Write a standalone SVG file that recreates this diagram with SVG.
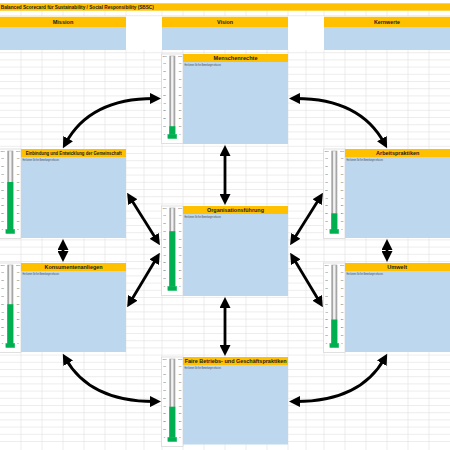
<svg xmlns="http://www.w3.org/2000/svg" xmlns:xlink="http://www.w3.org/1999/xlink" width="450" height="450" viewBox="0 0 450 450">
<style>
.grid line{stroke:#e0e0e0;stroke-width:0.6}
.hdr{fill:#ffc000}
.blue{fill:#bdd7ee}
.ht{font-family:"Liberation Sans",Arial,sans-serif;font-weight:bold;font-size:6px;fill:#1a1a1a;text-anchor:middle}
.rm{font-family:"Liberation Sans",Arial,sans-serif;font-size:2.6px;fill:#404040}
.tk{font-family:"Liberation Sans",Arial,sans-serif;font-size:2.4px;fill:#404040;text-anchor:middle}
.lvl{fill:#00b050}
.conn path{fill:none;stroke:#000;stroke-width:2.8;marker-start:url(#ah);marker-end:url(#ah)}
</style>
<defs>
<marker id="ah" markerUnits="userSpaceOnUse" markerWidth="11" markerHeight="11" refX="5" refY="5" orient="auto-start-reverse" viewBox="0 0 10 10">
<path d="M0,0 L10,5 L0,10 z" fill="#000"/>
</marker>
<g id="therm">
<rect x="0" y="0" width="21.5" height="89.5" fill="#fff" stroke="#d9d9d9" stroke-width="0.8"/>
<rect x="7.8" y="1.7" width="6" height="80" fill="#a6a6a6"/>
<rect x="9.6" y="2.2" width="2.4" height="79" fill="#f2f2f2"/>
<rect x="6.3" y="80.3" width="9" height="4.4" fill="#00b050" stroke="#33c070" stroke-width="0.4"/>
<g class="tk">
<text x="3" y="2.5">100</text><text x="3" y="10.3">90</text><text x="3" y="18.2">80</text><text x="3" y="26">70</text><text x="3" y="33.8">60</text><text x="3" y="41.7">50</text><text x="3" y="49.5">40</text><text x="3" y="57.3">30</text><text x="3" y="65.1">20</text><text x="3" y="73">10</text><text x="3" y="80.8">0</text>
<text x="18.5" y="2.5">100</text><text x="18.5" y="10.3">90</text><text x="18.5" y="18.2">80</text><text x="18.5" y="26">70</text><text x="18.5" y="33.8">60</text><text x="18.5" y="41.7">50</text><text x="18.5" y="49.5">40</text><text x="18.5" y="57.3">30</text><text x="18.5" y="65.1">20</text><text x="18.5" y="73">10</text><text x="18.5" y="80.8">0</text>
</g>
</g>
</defs>
<rect width="450" height="450" fill="#fff"/>
<g class="grid">
<line x1="0" y1="15.7" x2="450" y2="15.7"/>
<line x1="0" y1="52.7" x2="450" y2="52.7"/><line x1="0" y1="59.9" x2="450" y2="59.9"/><line x1="0" y1="67.1" x2="450" y2="67.1"/><line x1="0" y1="74.3" x2="450" y2="74.3"/><line x1="0" y1="81.5" x2="450" y2="81.5"/><line x1="0" y1="88.7" x2="450" y2="88.7"/><line x1="0" y1="95.9" x2="450" y2="95.9"/><line x1="0" y1="103.1" x2="450" y2="103.1"/><line x1="0" y1="110.3" x2="450" y2="110.3"/><line x1="0" y1="117.5" x2="450" y2="117.5"/><line x1="0" y1="124.7" x2="450" y2="124.7"/><line x1="0" y1="131.9" x2="450" y2="131.9"/><line x1="0" y1="139.1" x2="450" y2="139.1"/><line x1="0" y1="146.3" x2="450" y2="146.3"/><line x1="0" y1="153.5" x2="450" y2="153.5"/><line x1="0" y1="160.7" x2="450" y2="160.7"/><line x1="0" y1="167.9" x2="450" y2="167.9"/><line x1="0" y1="175.1" x2="450" y2="175.1"/><line x1="0" y1="182.3" x2="450" y2="182.3"/><line x1="0" y1="189.5" x2="450" y2="189.5"/><line x1="0" y1="196.7" x2="450" y2="196.7"/><line x1="0" y1="203.9" x2="450" y2="203.9"/><line x1="0" y1="211.1" x2="450" y2="211.1"/><line x1="0" y1="218.3" x2="450" y2="218.3"/><line x1="0" y1="225.5" x2="450" y2="225.5"/><line x1="0" y1="232.7" x2="450" y2="232.7"/><line x1="0" y1="239.9" x2="450" y2="239.9"/><line x1="0" y1="247.1" x2="450" y2="247.1"/><line x1="0" y1="254.3" x2="450" y2="254.3"/><line x1="0" y1="261.5" x2="450" y2="261.5"/><line x1="0" y1="268.7" x2="450" y2="268.7"/><line x1="0" y1="275.9" x2="450" y2="275.9"/><line x1="0" y1="283.1" x2="450" y2="283.1"/><line x1="0" y1="290.3" x2="450" y2="290.3"/><line x1="0" y1="297.5" x2="450" y2="297.5"/><line x1="0" y1="304.7" x2="450" y2="304.7"/><line x1="0" y1="311.9" x2="450" y2="311.9"/><line x1="0" y1="319.1" x2="450" y2="319.1"/><line x1="0" y1="326.3" x2="450" y2="326.3"/><line x1="0" y1="333.5" x2="450" y2="333.5"/><line x1="0" y1="340.7" x2="450" y2="340.7"/><line x1="0" y1="347.9" x2="450" y2="347.9"/><line x1="0" y1="355.1" x2="450" y2="355.1"/><line x1="0" y1="362.3" x2="450" y2="362.3"/><line x1="0" y1="369.5" x2="450" y2="369.5"/><line x1="0" y1="376.7" x2="450" y2="376.7"/><line x1="0" y1="383.9" x2="450" y2="383.9"/><line x1="0" y1="391.1" x2="450" y2="391.1"/><line x1="0" y1="398.3" x2="450" y2="398.3"/><line x1="0" y1="405.5" x2="450" y2="405.5"/><line x1="0" y1="412.7" x2="450" y2="412.7"/><line x1="0" y1="419.9" x2="450" y2="419.9"/><line x1="0" y1="427.1" x2="450" y2="427.1"/><line x1="0" y1="434.3" x2="450" y2="434.3"/><line x1="0" y1="441.5" x2="450" y2="441.5"/>
<line x1="21" y1="50" x2="21" y2="450"/><line x1="42" y1="50" x2="42" y2="450"/><line x1="63" y1="50" x2="63" y2="450"/><line x1="84" y1="50" x2="84" y2="450"/><line x1="105" y1="50" x2="105" y2="450"/><line x1="126" y1="50" x2="126" y2="450"/><line x1="144" y1="50" x2="144" y2="450"/><line x1="162" y1="50" x2="162" y2="450"/><line x1="183" y1="50" x2="183" y2="450"/><line x1="204" y1="50" x2="204" y2="450"/><line x1="225" y1="50" x2="225" y2="450"/><line x1="246" y1="50" x2="246" y2="450"/><line x1="267" y1="50" x2="267" y2="450"/><line x1="288" y1="50" x2="288" y2="450"/><line x1="306" y1="50" x2="306" y2="450"/><line x1="324" y1="50" x2="324" y2="450"/><line x1="345" y1="50" x2="345" y2="450"/><line x1="366" y1="50" x2="366" y2="450"/><line x1="387" y1="50" x2="387" y2="450"/><line x1="408" y1="50" x2="408" y2="450"/><line x1="429" y1="50" x2="429" y2="450"/>
<line x1="21" y1="10.7" x2="21" y2="16"/><line x1="42" y1="10.7" x2="42" y2="16"/><line x1="63" y1="10.7" x2="63" y2="16"/><line x1="84" y1="10.7" x2="84" y2="16"/><line x1="105" y1="10.7" x2="105" y2="16"/><line x1="126" y1="10.7" x2="126" y2="16"/><line x1="162" y1="10.7" x2="162" y2="16"/><line x1="183" y1="10.7" x2="183" y2="16"/><line x1="204" y1="10.7" x2="204" y2="16"/><line x1="225" y1="10.7" x2="225" y2="16"/><line x1="246" y1="10.7" x2="246" y2="16"/><line x1="267" y1="10.7" x2="267" y2="16"/><line x1="288" y1="10.7" x2="288" y2="16"/><line x1="306" y1="10.7" x2="306" y2="16"/><line x1="324" y1="10.7" x2="324" y2="16"/><line x1="345" y1="10.7" x2="345" y2="16"/><line x1="366" y1="10.7" x2="366" y2="16"/><line x1="387" y1="10.7" x2="387" y2="16"/><line x1="408" y1="10.7" x2="408" y2="16"/><line x1="429" y1="10.7" x2="429" y2="16"/>
</g>
<g id="title">
<rect x="0" y="3.3" width="450" height="7.4" class="hdr"/>
<text x="0.8" y="9.2" font-family="'Liberation Sans',Arial,sans-serif" font-weight="bold" font-size="5" fill="#1a1a1a" textLength="153" lengthAdjust="spacingAndGlyphs">Balanced Scorecard für Sustainability / Social Responsibility (SBSC)</text>
</g>
<g id="mission">
<rect x="0" y="16.8" width="126" height="10.2" class="hdr"/>
<rect x="0" y="27" width="126" height="23" class="blue"/>
<text x="63" y="24" class="ht" textLength="20.7" lengthAdjust="spacingAndGlyphs">Mission</text>
</g>
<g id="vision">
<rect x="162" y="16.8" width="126" height="10.2" class="hdr"/>
<rect x="162" y="27" width="126" height="23" class="blue"/>
<text x="225" y="24" class="ht" textLength="16" lengthAdjust="spacingAndGlyphs">Vision</text>
</g>
<g id="kernwerte">
<rect x="324" y="16.8" width="126" height="10.2" class="hdr"/>
<rect x="324" y="27" width="126" height="23" class="blue"/>
<text x="387" y="24" class="ht" textLength="26" lengthAdjust="spacingAndGlyphs">Kernwerte</text>
</g>
<g id="menschenrechte">
<use xlink:href="#therm" x="161.5" y="54"/>
<rect x="169.3" y="126.2" width="6" height="8.5" class="lvl"/>
<rect x="183" y="54" width="105" height="8" class="hdr"/>
<rect x="183" y="62" width="105" height="82" class="blue"/>
<text x="235.5" y="60.4" class="ht" textLength="44" lengthAdjust="spacingAndGlyphs">Menschenrechte</text>
<text x="184.5" y="65.5" class="rm" textLength="36.7" lengthAdjust="spacingAndGlyphs">Hier können Sie Ihre Bemerkungen erfassen.</text>
</g>
<g id="organisationsfuehrung">
<use xlink:href="#therm" x="161.5" y="206"/>
<rect x="169.3" y="231.2" width="6" height="55.5" class="lvl"/>
<rect x="183" y="206" width="105" height="8" class="hdr"/>
<rect x="183" y="214" width="105" height="82" class="blue"/>
<text x="235.5" y="212.4" class="ht" textLength="57" lengthAdjust="spacingAndGlyphs">Organisationsführung</text>
<text x="184.5" y="217.5" class="rm" textLength="36.7" lengthAdjust="spacingAndGlyphs">Hier können Sie Ihre Bemerkungen erfassen.</text>
</g>
<g id="faire-praktiken">
<use xlink:href="#therm" x="161.5" y="357"/>
<rect x="169.3" y="406.7" width="6" height="31" class="lvl"/>
<rect x="183" y="357" width="105" height="8" class="hdr"/>
<rect x="183" y="365" width="105" height="79.5" class="blue"/>
<text x="235.7" y="363.4" class="ht" textLength="102" lengthAdjust="spacingAndGlyphs">Faire Betriebs- und Geschäftspraktiken</text>
<text x="184.5" y="368.5" class="rm" textLength="36.7" lengthAdjust="spacingAndGlyphs">Hier können Sie Ihre Bemerkungen erfassen.</text>
</g>
<g id="gemeinschaft">
<use xlink:href="#therm" x="-0.5" y="149"/>
<rect x="7.3" y="182" width="6" height="48" class="lvl"/>
<rect x="21" y="149" width="105" height="8" class="hdr"/>
<rect x="21" y="157" width="105" height="81" class="blue"/>
<text x="73.7" y="155.2" class="ht" font-size="4.6" textLength="96" lengthAdjust="spacingAndGlyphs">Einbindung und Entwicklung der Gemeinschaft</text>
<text x="22.5" y="160.5" class="rm" textLength="36.7" lengthAdjust="spacingAndGlyphs">Hier können Sie Ihre Bemerkungen erfassen.</text>
</g>
<g id="konsumentenanliegen">
<use xlink:href="#therm" x="-0.5" y="263"/>
<rect x="7.3" y="304.2" width="6" height="39.8" class="lvl"/>
<rect x="21" y="263" width="105" height="8" class="hdr"/>
<rect x="21" y="271" width="105" height="81" class="blue"/>
<text x="73.5" y="269.4" class="ht" textLength="58" lengthAdjust="spacingAndGlyphs">Konsumentenanliegen</text>
<text x="22.5" y="274.5" class="rm" textLength="36.7" lengthAdjust="spacingAndGlyphs">Hier können Sie Ihre Bemerkungen erfassen.</text>
</g>
<g id="arbeitspraktiken">
<use xlink:href="#therm" x="323.5" y="149"/>
<rect x="331.3" y="213.3" width="6" height="16.7" class="lvl"/>
<rect x="345" y="149" width="105" height="8" class="hdr"/>
<rect x="345" y="157" width="105" height="81" class="blue"/>
<text x="397.7" y="155.4" class="ht" textLength="43.3" lengthAdjust="spacingAndGlyphs">Arbeitspraktiken</text>
<text x="346.5" y="160.5" class="rm" textLength="36.7" lengthAdjust="spacingAndGlyphs">Hier können Sie Ihre Bemerkungen erfassen.</text>
</g>
<g id="umwelt">
<use xlink:href="#therm" x="323.5" y="263"/>
<rect x="331.3" y="319.5" width="6" height="24.5" class="lvl"/>
<rect x="345" y="263" width="105" height="8" class="hdr"/>
<rect x="345" y="271" width="105" height="81" class="blue"/>
<text x="397.2" y="269.4" class="ht" textLength="19.7" lengthAdjust="spacingAndGlyphs">Umwelt</text>
<text x="346.5" y="274.5" class="rm" textLength="36.7" lengthAdjust="spacingAndGlyphs">Hier können Sie Ihre Bemerkungen erfassen.</text>
</g>
<g class="conn" id="connectors">
<path d="M155.5,98.5 Q90,98 65.5,143.5"/>
<path d="M294.5,98.5 Q360,98 384.5,143.5"/>
<path d="M225,150.5 L225,199.5"/>
<path d="M225,302.5 L225,350.5"/>
<path d="M63,244.5 L63,256.5"/>
<path d="M387,244.5 L387,256.5"/>
<path d="M130,197.5 L157,240.5"/>
<path d="M130,302.5 L157,257.5"/>
<path d="M320,197.5 L293,240.5"/>
<path d="M320,302.5 L293,257.5"/>
<path d="M65.5,358.5 Q90,402 155.5,401.5"/>
<path d="M384.5,358.5 Q360,402 294.5,401.5"/>
</g>
</svg>
